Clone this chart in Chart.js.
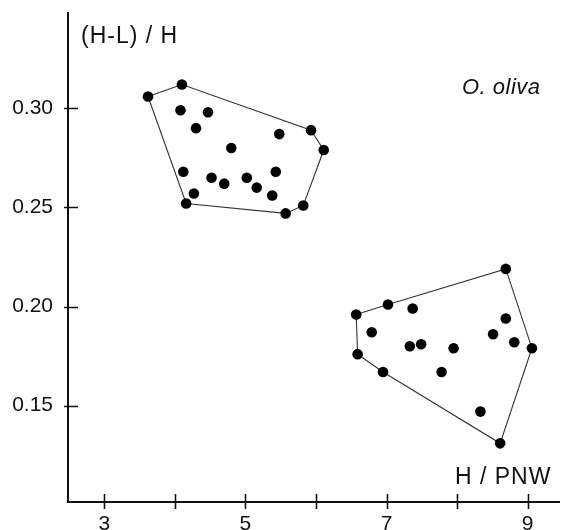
<!DOCTYPE html>
<html>
<head>
<meta charset="utf-8">
<script src="https://cdn.jsdelivr.net/npm/chart.js@4/dist/chart.umd.min.js"></script>
<style>
  html, body { margin: 0; padding: 0; background: #fff; }
  #wrap { width: 570px; height: 530px; position: relative; }
</style>
</head>
<body>
<div id="wrap"><canvas id="c" width="570" height="530"></canvas></div>
<script>
// ---- Data ----
const groupA_x = [3.62, 4.10, 4.08, 4.47, 4.30, 4.80, 4.12, 4.52, 4.70, 5.02, 5.16, 5.38, 5.48, 5.43, 5.93, 6.11, 5.82, 5.57, 4.27, 4.16];
const groupA_y = [0.306, 0.312, 0.299, 0.298, 0.290, 0.280, 0.268, 0.265, 0.262, 0.265, 0.260, 0.256, 0.287, 0.268, 0.289, 0.279, 0.251, 0.247, 0.257, 0.252];
const hullA = [0, 1, 14, 15, 16, 17, 19, 0];

const groupB_x = [6.57, 7.02, 7.37, 6.79, 7.33, 7.49, 7.95, 6.59, 6.95, 7.78, 8.69, 8.69, 8.51, 8.81, 9.06, 8.33, 8.61];
const groupB_y = [0.196, 0.201, 0.199, 0.187, 0.180, 0.181, 0.179, 0.176, 0.167, 0.167, 0.219, 0.194, 0.186, 0.182, 0.179, 0.147, 0.131];
const hullB = [0, 1, 10, 14, 16, 8, 7, 0];

const xTicks = [3, 4, 5, 6, 7, 8, 9];
const xTickLabels = ['3', '', '5', '', '7', '', '9'];
const yTicks = [0.15, 0.20, 0.25, 0.30];
const yTickLabels = ['0.15', '0.20', '0.25', '0.30'];

const yTitle = '(H-L) / H';
const xTitle = 'H / PNW';
const speciesLabel = 'O. oliva';

// ---- Build datasets ----
const toPts = (xs, ys) => xs.map((x, i) => ({ x: x, y: ys[i] }));
const ptsA = toPts(groupA_x, groupA_y);
const ptsB = toPts(groupB_x, groupB_y);
const hullPts = (pts, idx) => idx.map(i => pts[i]);

const FONT = '"Liberation Sans", Arial, sans-serif';
const INK = '#111';

const axesPlugin = {
  id: 'axesPlugin',
  afterDraw(chart) {
    const ctx = chart.ctx;
    const xs = chart.scales.x, ys = chart.scales.y;
    const area = chart.chartArea;
    ctx.save();
    ctx.strokeStyle = INK;
    ctx.lineWidth = 2;
    ctx.beginPath();
    ctx.moveTo(area.left, area.top);
    ctx.lineTo(area.left, area.bottom);
    ctx.lineTo(area.right, area.bottom);
    ctx.stroke();
    ctx.lineWidth = 1.6;
    ctx.beginPath();
    xTicks.forEach(v => {
      const px = Math.round(xs.getPixelForValue(v)) + 0.5;
      ctx.moveTo(px, area.bottom - 8);
      ctx.lineTo(px, area.bottom + 7);
    });
    yTicks.forEach(v => {
      const py = Math.round(ys.getPixelForValue(v)) + 0.5;
      ctx.moveTo(area.left - 4, py);
      ctx.lineTo(area.left + 10, py);
    });
    ctx.stroke();

    ctx.fillStyle = INK;
    ctx.textBaseline = 'alphabetic';
    ctx.textAlign = 'left';
    ctx.font = '23px ' + FONT;
    try { ctx.letterSpacing = '1px'; } catch (e) {}
    ctx.fillText(yTitle, 81, 43);
    ctx.fillText(xTitle, 455, 484);
    ctx.font = 'italic 22px ' + FONT;
    try { ctx.letterSpacing = '0.5px'; } catch (e) {}
    ctx.fillText(speciesLabel, 462, 94);
    ctx.restore();
  }
};

new Chart(document.getElementById('c'), {
  type: 'scatter',
  data: {
    datasets: [
      { data: ptsA, backgroundColor: '#000', borderColor: '#000', pointRadius: 5.3, pointBorderWidth: 0, showLine: false },
      { data: ptsB, backgroundColor: '#000', borderColor: '#000', pointRadius: 5.3, pointBorderWidth: 0, showLine: false },
      { data: hullPts(ptsA, hullA), showLine: true, borderColor: '#333', borderWidth: 1.1, pointRadius: 0, fill: false, tension: 0 },
      { data: hullPts(ptsB, hullB), showLine: true, borderColor: '#333', borderWidth: 1.1, pointRadius: 0, fill: false, tension: 0 }
    ]
  },
  options: {
    responsive: false,
    animation: false,
    devicePixelRatio: 1,
    layout: { padding: { top: 12, right: 10, left: 0, bottom: 0 } },
    plugins: { legend: { display: false }, tooltip: { enabled: false }, title: { display: false } },
    scales: {
      x: {
        type: 'linear',
        min: 2.486, max: 9.458,
        grid: { display: false, drawTicks: false },
        border: { display: false },
        afterFit(scale) { scale.height = 28; scale.paddingLeft = 0; scale.paddingRight = 0; scale.paddingTop = 0; scale.paddingBottom = 0; },
        afterBuildTicks(scale) { scale.ticks = xTicks.map(v => ({ value: v })); },
        ticks: {
          autoSkip: false,
          maxRotation: 0,
          padding: 10,
          color: INK,
          font: { family: FONT, size: 21 },
          callback: (v) => { const i = xTicks.indexOf(v); return i >= 0 ? xTickLabels[i] : ''; }
        }
      },
      y: {
        type: 'linear',
        min: 0.1014, max: 0.3486,
        grid: { display: false, drawTicks: false },
        border: { display: false },
        afterFit(scale) { scale.width = 68; scale.paddingTop = 0; scale.paddingBottom = 0; scale.paddingLeft = 0; scale.paddingRight = 0; },
        afterBuildTicks(scale) { scale.ticks = yTicks.map(v => ({ value: v })); },
        ticks: {
          autoSkip: false,
          padding: 15,
          color: INK,
          font: { family: FONT, size: 21 },
          callback: (v) => { const i = yTicks.indexOf(v); return i >= 0 ? yTickLabels[i] : ''; }
        }
      }
    }
  },
  plugins: [axesPlugin]
});
</script>
</body>
</html>
